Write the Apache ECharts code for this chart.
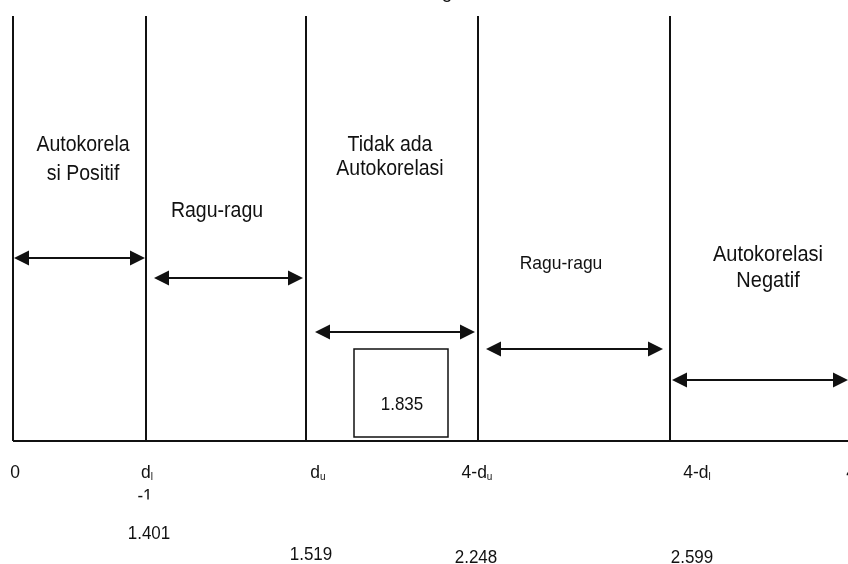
<!DOCTYPE html>
<html><head><meta charset="utf-8">
<script src="https://cdn.jsdelivr.net/npm/echarts@6/dist/echarts.min.js"></script>
<style>html,body{margin:0;padding:0;background:#fff}#c{width:848px;height:564px}</style>
</head><body><div id="c"></div>
<script>
// ---------- data ----------
const zoneNames = [['Autokorela','si Positif'],['Ragu-ragu'],['Tidak ada','Autokorelasi'],['Ragu-ragu'],['Autokorelasi','Negatif']];
const boundarySymbols = [['0',''],['d','l'],['d','u'],['4-d','u'],['4-d','l'],['4','']];
const dlFragment = '-1';
const boundaryValues = ['1.401','1.519','2.248','2.599'];
const dwStatistic = '1.835';
const titleFragment = 'g';

// ---------- schematic layout (x: px across, h: px above the baseline) ----------
const boundaryPos = [13,146,306,478,670];
const lineTop = 425;
const baselineEnds = [13,848];
const arrowSpans = [[14,145,183],[154,303,163],[315,475,109],[486,663,92],[672,848,61]];
const zoneLabelPos = [
  {x:83, h:[295.5,267], size:19.5},
  {x:217, h:[230], size:19.5},
  {x:390, h:[296,272], size:19.5},
  {x:561, h:[177], size:17.5},
  {x:768, h:[186.5,160.5], size:20}
];
const symbolPos = [15,147,318,477,697,851];
const symbolH = -31.5;
const fragmentPos = [145,-56];
const valuePos = [[149,-93],[311,-114],[476,-116.5],[692,-116.5]];
const boxSpan = [354,448,4,92];
const statPos = [402,36];
const titlePos = [447,439];

const FONT = 'Liberation Sans, Arial, sans-serif';
const INK = '#111';
const STRETCH = 1.1;

const chart = echarts.init(document.getElementById('c'), null, {renderer:'canvas'});

function textEl(api, x, h, text, size) {
  const p = api.coord([x, h]);
  return {
    type: 'text', x: p[0], y: p[1], scaleY: STRETCH,
    style: {text: text, x: 0, y: 0, fill: INK, fontSize: size, fontFamily: FONT,
            align: 'center', verticalAlign: 'middle'}
  };
}

const series = [];

// baseline
series.push({
  type: 'line', data: baselineEnds.map(x => [x, 0]), symbol: 'none', silent: true,
  lineStyle: {color: INK, width: 2}, animation: false
});

// zone boundaries
series.push({
  type: 'custom', data: boundaryPos.map(x => [x]), silent: true, animation: false,
  renderItem: function (params, api) {
    const x = api.value(0);
    const a = api.coord([x, 0]), b = api.coord([x, lineTop]);
    return {type: 'line', shape: {x1: a[0], y1: a[1], x2: b[0], y2: b[1]},
            style: {stroke: INK, lineWidth: 2}};
  }
});

// double-headed arrows
series.push({
  type: 'custom', data: arrowSpans, silent: true, animation: false,
  renderItem: function (params, api) {
    const a = api.coord([api.value(0), api.value(2)]);
    const b = api.coord([api.value(1), api.value(2)]);
    const L = 15, W = 7.5;
    return {type: 'group', children: [
      {type: 'line', shape: {x1: a[0] + 4, y1: a[1], x2: b[0] - 4, y2: b[1]}, style: {stroke: INK, lineWidth: 2}},
      {type: 'polygon', shape: {points: [[a[0], a[1]], [a[0] + L, a[1] - W], [a[0] + L, a[1] + W]]}, style: {fill: INK}},
      {type: 'polygon', shape: {points: [[b[0], b[1]], [b[0] - L, b[1] - W], [b[0] - L, b[1] + W]]}, style: {fill: INK}}
    ]};
  }
});

// zone labels
series.push({
  type: 'custom', data: zoneLabelPos.map(z => [z.x]), silent: true, animation: false,
  renderItem: function (params, api) {
    const z = zoneLabelPos[params.dataIndex];
    const lines = zoneNames[params.dataIndex];
    return {type: 'group', children: lines.map((t, i) => textEl(api, z.x, z.h[i], t, z.size))};
  }
});

// statistic box
series.push({
  type: 'custom', data: [boxSpan], silent: true, animation: false,
  renderItem: function (params, api) {
    const tl = api.coord([api.value(0), api.value(3)]);
    const br = api.coord([api.value(1), api.value(2)]);
    return {type: 'group', children: [
      {type: 'rect', shape: {x: tl[0], y: tl[1], width: br[0] - tl[0], height: br[1] - tl[1]},
       style: {fill: 'none', stroke: INK, lineWidth: 1.5}},
      textEl(api, statPos[0], statPos[1], dwStatistic, 17)
    ]};
  }
});

// boundary symbols (d with subscripts)
series.push({
  type: 'custom', data: symbolPos.map(x => [x]), silent: true, animation: false,
  renderItem: function (params, api) {
    const s = boundarySymbols[params.dataIndex];
    const p = api.coord([symbolPos[params.dataIndex], symbolH]);
    const txt = s[1] ? '{m|' + s[0] + '}{s|' + s[1] + '}' : '{m|' + s[0] + '}';
    return {type: 'text', x: p[0], y: p[1], scaleY: STRETCH, style: {
      text: txt, x: 0, y: 0, align: 'center', verticalAlign: 'middle',
      rich: {
        m: {fontSize: 17.5, fontFamily: FONT, fill: INK, lineHeight: 19},
        s: {fontSize: 10, fontFamily: FONT, fill: INK, lineHeight: 10, verticalAlign: 'bottom'}
      }
    }};
  }
});

// clipped "-1" fragment under d_l
series.push({
  type: 'custom', data: [fragmentPos], silent: true, animation: false,
  renderItem: function (params, api) {
    const p = api.coord([fragmentPos[0], fragmentPos[1]]);
    return {type: 'group', children: [
      textEl(api, fragmentPos[0], fragmentPos[1], dlFragment, 17),
      {type: 'rect', shape: {x: p[0] - 20, y: p[1] + 2.5, width: 40, height: 14}, style: {fill: '#fff'}}
    ]};
  }
});

// boundary values
series.push({
  type: 'custom', data: valuePos, silent: true, animation: false,
  renderItem: function (params, api) {
    return textEl(api, api.value(0), api.value(1), boundaryValues[params.dataIndex], 17);
  }
});

// clipped title fragment at the very top
series.push({
  type: 'custom', data: [titlePos], silent: true, animation: false,
  renderItem: function (params, api) {
    const p = api.coord([titlePos[0], titlePos[1]]);
    return {type: 'text', style: {text: titleFragment, x: p[0], y: p[1], fill: INK, fontSize: 19,
      fontFamily: FONT, align: 'center', verticalAlign: 'bottom'}};
  }
});

chart.setOption({
  animation: false,
  backgroundColor: '#fff',
  grid: {left: 0, right: 0, top: 0, bottom: 0},
  xAxis: {type: 'value', min: 0, max: 848, show: false},
  yAxis: {type: 'value', min: -123, max: 441, show: false},
  series: series
});
</script></body></html>
